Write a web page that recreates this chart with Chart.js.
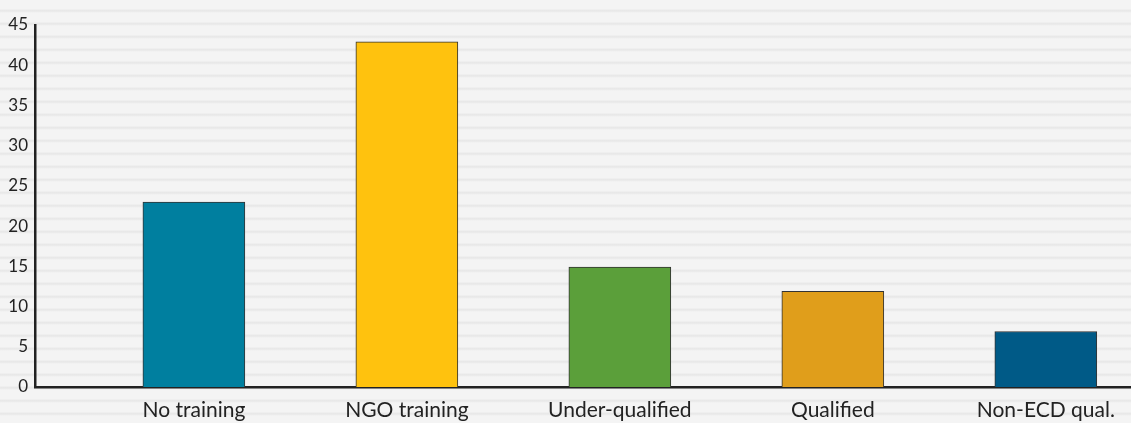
<!DOCTYPE html>
<html lang="en">
<head>
  <meta charset="UTF-8">
  <title>Training chart</title>
  <script src="https://cdn.jsdelivr.net/npm/chart.js"></script>
  <style>
    html, body {
      margin: 0;
      padding: 0;
      width: 1131px;
      height: 423px;
      overflow: hidden;
      background-color: #f3f3f3;
      background-image: repeating-linear-gradient(to bottom,
        #f4f4f4 0px, #f4f4f4 9px, #eaeaea 10px, #e7e7e7 11px, #efefef 12px, #f4f4f4 13px);
    }
    #wrap {
      position: absolute;
      left: 0;
      top: 0;
      width: 1131px;
      height: 423px;
    }
  </style>
</head>
<body>
  <div id="wrap"><canvas id="chart"></canvas></div>

<script>
// data
const categories = ["No training", "NGO training", "Under-qualified", "Qualified", "Non-ECD qual."];
const values = [23.0, 42.9, 14.9, 11.9, 6.9];
const barColors = ["#007f9f", "#ffc20e", "#5b9f3a", "#e09e1b", "#005a87"];
const yTicks = [0, 5, 10, 15, 20, 25, 30, 35, 40, 45];

const points = values.map((v, i) => ({ x: i, y: v }));

new Chart(document.getElementById("chart"), {
  type: "bar",
  data: {
    datasets: [{
      data: points,
      backgroundColor: barColors,
      borderColor: "#333333",
      borderWidth: 1,
      barThickness: 102
    }]
  },
  options: {
    responsive: true,
    maintainAspectRatio: false,
    animation: false,
    layout: { padding: { top: 25, right: 0, bottom: 0, left: 0 } },
    plugins: {
      legend: { display: false },
      tooltip: { enabled: false }
    },
    scales: {
      x: {
        type: "linear",
        offset: false,
        min: -0.746,
        max: 4.4,
        afterBuildTicks: (axis) => {
          axis.ticks = categories.map((c, i) => ({ value: i }));
        },
        afterFit: (axis) => { axis.height = 36; },
        ticks: {
          autoSkip: false,
          maxRotation: 0,
          padding: 11,
          color: "#222",
          font: { family: "Lato", size: 21 },
          callback: (v) => categories[v]
        },
        grid: { display: false, drawTicks: false },
        border: { display: true, color: "#222", width: 2.5 }
      },
      y: {
        min: 0,
        max: 45,
        afterBuildTicks: (axis) => {
          axis.ticks = yTicks.map(v => ({ value: v }));
        },
        afterFit: (axis) => { axis.width = 35; },
        ticks: {
          padding: 7,
          color: "#222",
          font: { family: "Lato", size: 17 }
        },
        grid: { display: false, drawTicks: false },
        border: { display: true, color: "#222", width: 2.5 }
      }
    }
  }
});
</script>
</body>
</html>
